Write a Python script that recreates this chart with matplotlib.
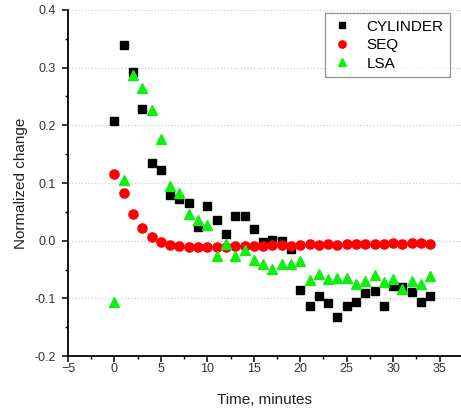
import matplotlib
matplotlib.use("Agg")
import matplotlib.pyplot as plt
from matplotlib.ticker import MultipleLocator

plt.rcParams["font.family"] = ["Liberation Sans", "DejaVu Sans"]

time_min = list(range(0, 35))

cylinder = [0.207, 0.340, 0.292, 0.228, 0.135, 0.123, 0.079, 0.072, 0.066, 0.023,
            0.061, 0.036, 0.012, 0.043, 0.042, 0.020, -0.003, 0.001, 0.000, -0.015,
            -0.085, -0.114, -0.095, -0.108, -0.132, -0.113, -0.107, -0.091, -0.087, -0.114,
            -0.079, -0.080, -0.089, -0.106, -0.096]

seq = [0.116, 0.082, 0.047, 0.022, 0.007, -0.002, -0.007, -0.010, -0.011, -0.011,
       -0.011, -0.011, -0.011, -0.010, -0.010, -0.009, -0.010, -0.008, -0.008, -0.009,
       -0.008, -0.006, -0.007, -0.006, -0.007, -0.006, -0.006, -0.005, -0.005, -0.006,
       -0.004, -0.005, -0.004, -0.004, -0.005]

lsa = [-0.107, 0.105, 0.287, 0.264, 0.226, 0.176, 0.094, 0.082, 0.047, 0.036,
       0.027, -0.027, -0.005, -0.027, -0.016, -0.033, -0.040, -0.049, -0.040, -0.040,
       -0.035, -0.068, -0.058, -0.067, -0.064, -0.064, -0.075, -0.069, -0.059, -0.072,
       -0.067, -0.083, -0.069, -0.075, -0.062]

fig = plt.figure(figsize=(4.61, 4.15), dpi=100)
ax = fig.add_axes([0.1475, 0.142, 0.8525, 0.834])

ax.plot(time_min, cylinder, "s", color="black", markersize=5.8, label="CYLINDER")
ax.plot(time_min, seq, "o", color="#ff0000", markersize=6.6, label="SEQ")
ax.plot(time_min, lsa, "^", color="#11ee11", markersize=7.2, label="LSA")

ax.set_xlim(-5, 37.3)
ax.set_ylim(-0.2, 0.4)
ax.xaxis.set_major_locator(MultipleLocator(5))
ax.xaxis.set_minor_locator(MultipleLocator(2.5))
ax.yaxis.set_major_locator(MultipleLocator(0.1))
ax.yaxis.set_minor_locator(MultipleLocator(0.05))
ax.yaxis.set_major_formatter(plt.FormatStrFormatter("%.1f"))

ax.grid(True, axis="y", which="major", color="#d0d0d0", linestyle=":", linewidth=0.9)
ax.set_axisbelow(True)

for side in ["top", "right"]:
    ax.spines[side].set_visible(False)
for side in ["left", "bottom"]:
    ax.spines[side].set_linewidth(1.3)

ax.tick_params(which="major", direction="out", length=4.5, width=1.1, labelsize=9,
               colors="black", labelcolor="#333333")
ax.tick_params(which="minor", direction="out", length=2.5, width=1.0)
ax.tick_params(axis="x", which="major", pad=0.8)
ax.tick_params(axis="y", which="major", pad=4)

ax.set_xlabel("Time, minutes", fontsize=11, color="#222222", labelpad=13)
ax.set_ylabel("Normalized change", fontsize=11, color="#222222", labelpad=5)

leg = ax.legend(loc="upper left", bbox_to_anchor=(0.655, 0.99), fontsize=11,
                frameon=True, fancybox=False, borderpad=0.4, labelspacing=0.3,
                handletextpad=0.9, handlelength=1.4, borderaxespad=0, markerscale=0.8)
leg.get_frame().set_edgecolor("#777777")
leg.get_frame().set_linewidth(0.9)

fig.savefig("out.png", dpi=100)
